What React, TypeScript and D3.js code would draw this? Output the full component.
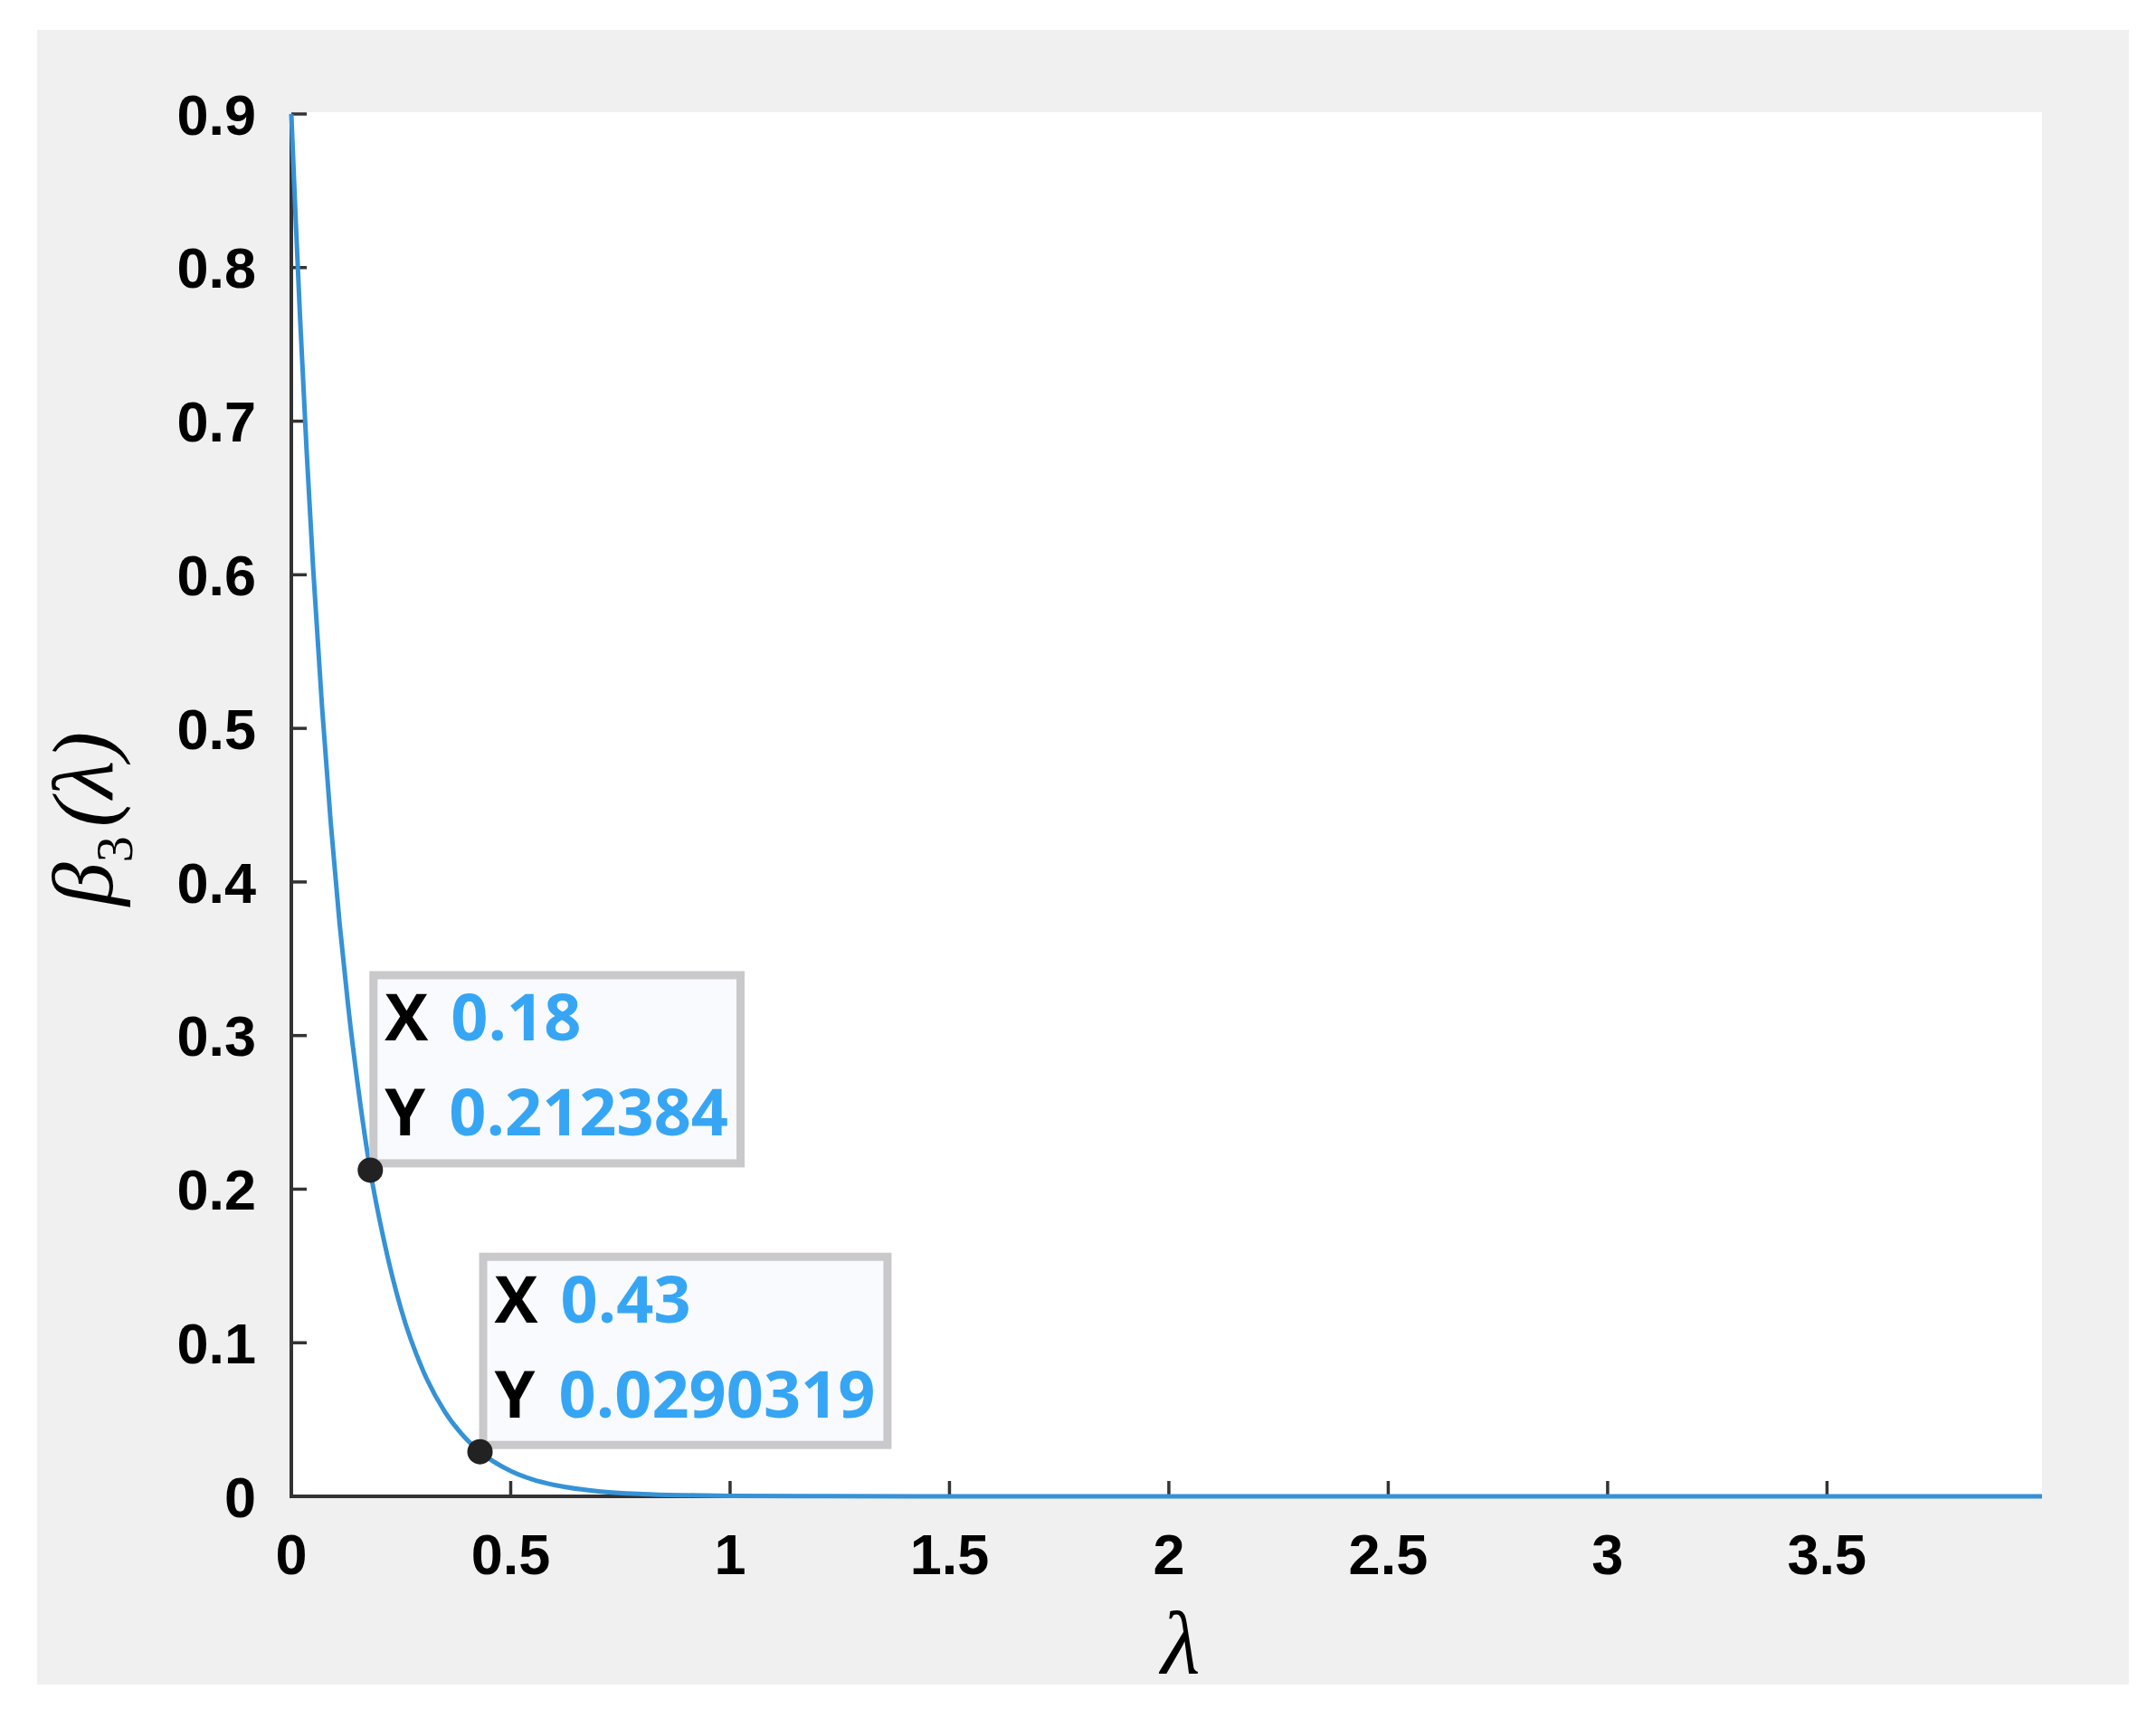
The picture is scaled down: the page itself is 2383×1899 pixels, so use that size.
import React, { useEffect, useRef } from 'react';
import * as d3 from 'd3';

// Curve values
const lambdaValues = [0, 0.01, 0.02, 0.035, 0.05, 0.07, 0.09, 0.11, 0.13, 0.15, 0.18, 0.21, 0.25, 0.3, 0.35, 0.4, 0.43, 0.5, 0.55, 0.6, 0.7, 0.8, 0.9, 1.0, 1.2, 1.5, 2.0, 2.5, 3.0, 3.5, 3.99];
const betaValues = [0.9, 0.831, 0.767, 0.68, 0.603, 0.514, 0.438, 0.373, 0.318, 0.271, 0.212, 0.168, 0.122, 0.082, 0.055, 0.037, 0.029, 0.0165, 0.011, 0.0074, 0.0033, 0.0015, 0.0007, 0.0003, 0.0001, 0, 0, 0, 0, 0, 0];

const xTicks = [0, 0.5, 1, 1.5, 2, 2.5, 3, 3.5];
const xTickLabels = ['0', '0.5', '1', '1.5', '2', '2.5', '3', '3.5'];
const yTicks = [0, 0.1, 0.2, 0.3, 0.4, 0.5, 0.6, 0.7, 0.8, 0.9];
const yTickLabels = ['0', '0.1', '0.2', '0.3', '0.4', '0.5', '0.6', '0.7', '0.8', '0.9'];

const tipX = [0.18, 0.43];
const tipY = [0.212384, 0.0290319];
const tipXLabels = ['0.18', '0.43'];
const tipYLabels = ['0.212384', '0.0290319'];

const W = 2383;
const H = 1899;

export default function App() {
  const ref = useRef<SVGSVGElement | null>(null);

  useEffect(() => {
    const svg = d3.select(ref.current);
    svg.selectAll('*').remove();

    const x = d3.scaleLinear().domain([0, 3.99]).range([322, 2257]);
    const y = d3.scaleLinear().domain([0, 0.9]).range([1654, 126]);

    // backgrounds
    svg.append('rect').attr('x', 0).attr('y', 0).attr('width', W).attr('height', H).attr('fill', '#ffffff');
    svg.append('rect').attr('x', 41).attr('y', 33).attr('width', 2312).attr('height', 1829).attr('fill', '#f0f0f0');
    svg.append('rect').attr('x', 322).attr('y', 124).attr('width', 1935).attr('height', 1530).attr('fill', '#ffffff');

    const axisColor = '#333333';
    const tickLen = 17;
    const g = svg.append('g');

    // axes lines
    g.append('line').attr('x1', x(0)).attr('x2', x(0)).attr('y1', y(0.9)).attr('y2', y(0) + 2)
      .attr('stroke', axisColor).attr('stroke-width', 4);
    g.append('line').attr('x1', x(0)).attr('x2', x(3.99)).attr('y1', y(0)).attr('y2', y(0))
      .attr('stroke', axisColor).attr('stroke-width', 4);

    // y ticks
    g.selectAll('line.yt').data(yTicks).enter().append('line')
      .attr('x1', x(0)).attr('x2', x(0) + tickLen)
      .attr('y1', (d) => y(d)).attr('y2', (d) => y(d))
      .attr('stroke', axisColor).attr('stroke-width', 3.5);
    // x ticks
    g.selectAll('line.xt').data(xTicks).enter().append('line')
      .attr('x1', (d) => x(d)).attr('x2', (d) => x(d))
      .attr('y1', y(0)).attr('y2', y(0) - tickLen)
      .attr('stroke', axisColor).attr('stroke-width', 3.5);

    const tickFont = '"Liberation Sans", Arial, sans-serif';
    g.selectAll('text.yl').data(yTicks).enter().append('text')
      .attr('x', 283).attr('y', (d) => y(d)).attr('dy', '0.36em')
      .attr('text-anchor', 'end').attr('font-family', tickFont).attr('font-weight', 700)
      .attr('font-size', 63).attr('fill', '#000')
      .text((d, i) => yTickLabels[i]);
    g.selectAll('text.xl').data(xTicks).enter().append('text')
      .attr('x', (d) => x(d)).attr('y', 1740)
      .attr('text-anchor', 'middle').attr('font-family', tickFont).attr('font-weight', 700)
      .attr('font-size', 63).attr('fill', '#000')
      .text((d, i) => xTickLabels[i]);

    // curve
    const pts: [number, number][] = lambdaValues.map((l, i) => [l, betaValues[i]]);
    const line = d3.line<[number, number]>().x((d) => x(d[0])).y((d) => y(d[1])).curve(d3.curveMonotoneX);
    svg.append('path').attr('d', line(pts) as string).attr('fill', 'none')
      .attr('stroke', '#3592d6').attr('stroke-width', 5);

    // data tips
    const tipFont = '"Open Sans", "Noto Sans", sans-serif';
    tipX.forEach((tx, i) => {
      const px = x(tx);
      const py = y(tipY[i]);
      const outerLeft = px - 1;
      const outerH = 217;
      const outerTop = py - 3 - outerH;
      const tg = svg.append('g');
      const rect = tg.append('rect');
      tg.append('text').attr('x', outerLeft + 17).attr('y', outerTop + 77)
        .attr('font-family', tipFont).attr('font-size', 72).attr('font-weight', 700).attr('fill', '#000').text('X');
      const v1 = tg.append('text').attr('x', outerLeft + 90).attr('y', outerTop + 77)
        .attr('font-family', tipFont).attr('font-size', 72).attr('font-weight', 700).attr('fill', '#36a6f4').text(tipXLabels[i]);
      tg.append('text').attr('x', outerLeft + 17).attr('y', outerTop + 182)
        .attr('font-family', tipFont).attr('font-size', 72).attr('font-weight', 700).attr('fill', '#000').text('Y');
      const v2 = tg.append('text').attr('x', outerLeft + 88).attr('y', outerTop + 182)
        .attr('font-family', tipFont).attr('font-size', 72).attr('font-weight', 700).attr('fill', '#36a6f4').text(tipYLabels[i]);
      const w1 = (v1.node() as SVGTextElement).getComputedTextLength();
      const w2 = (v2.node() as SVGTextElement).getComputedTextLength();
      const outerW = 88 + Math.max(w1, w2) + 18;
      rect.attr('x', outerLeft + 4.5).attr('y', outerTop + 4.5)
        .attr('width', outerW - 9).attr('height', outerH - 9)
        .attr('fill', '#f9fafd').attr('stroke', '#c9c9cb').attr('stroke-width', 9);
      svg.append('circle').attr('cx', px).attr('cy', py).attr('r', 14).attr('fill', '#222222');
    });

    // axis labels
    const serif = '"Liberation Serif", "Times New Roman", serif';
    const yl = svg.append('text').attr('transform', 'translate(124,905) rotate(-90)')
      .attr('text-anchor', 'middle').attr('font-family', serif).attr('font-style', 'italic')
      .attr('font-size', 96).attr('fill', '#000');
    yl.append('tspan').text('β');
    yl.append('tspan').attr('font-size', 58).attr('dy', 22).attr('font-style', 'normal').text('3');
    yl.append('tspan').attr('dy', -22).attr('dx', 10).text('(λ)');

    svg.append('text').attr('x', 1305).attr('y', 1850).attr('text-anchor', 'middle')
      .attr('font-family', serif).attr('font-style', 'italic').attr('font-size', 100)
      .attr('fill', '#000').text('λ');
  }, []);

  return (
    <svg
      ref={ref}
      width={W}
      height={H}
      viewBox={`0 0 ${W} ${H}`}
      style={{ position: 'absolute', left: 0, top: 0, display: 'block' }}
    />
  );
}
